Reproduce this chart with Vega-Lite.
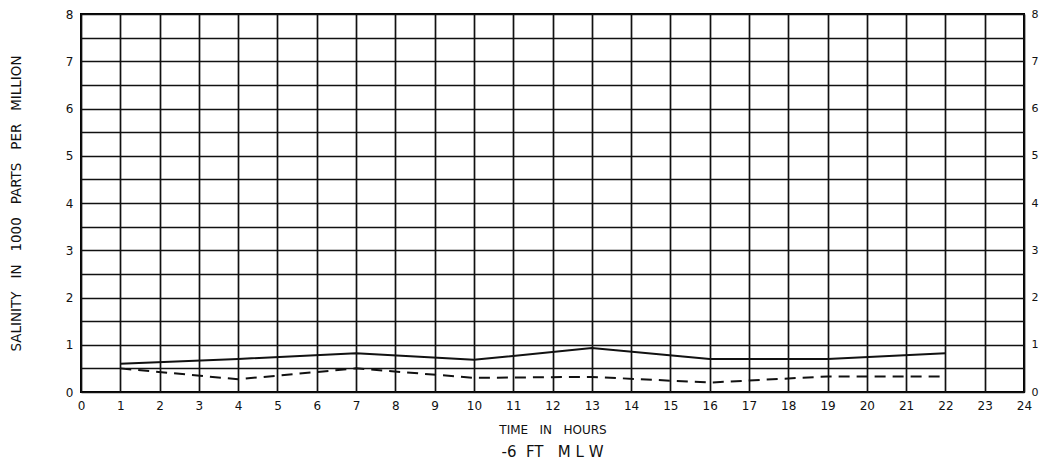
{
  "$schema": "https://vega.github.io/schema/vega-lite/v6.json",
  "width": 943,
  "height": 378,
  "autosize": {"type": "none"},
  "padding": {"left": 81, "top": 14, "right": 23, "bottom": 72},
  "background": "white",
  "title": {"text": "-6\u00a0\u00a0FT\u00a0\u00a0 M\u00a0L\u00a0W", "orient": "bottom", "fontSize": 15, "fontWeight": "normal", "font": "DejaVu Sans", "color": "#111", "offset": 10},
  "config": {
    "view": {"stroke": "black", "strokeWidth": 2},
    "font": "DejaVu Sans",
    "axis": {
      "domain": false,
      "ticks": false,
      "grid": true,
      "gridColor": "#111",
      "gridOpacity": 1,
      "gridWidth": 1.7,
      "labelColor": "#111",
      "labelFontSize": 12,
      "labelPadding": 8,
      "titleColor": "#111",
      "titleFontWeight": "normal",
      "titleFontSize": 12
    }
  },
  "data": {
    "values": [
      {"hour": 1, "salinity": 0.6, "series": "upper"},
      {"hour": 4, "salinity": 0.7, "series": "upper"},
      {"hour": 7, "salinity": 0.82, "series": "upper"},
      {"hour": 10, "salinity": 0.68, "series": "upper"},
      {"hour": 13, "salinity": 0.93, "series": "upper"},
      {"hour": 16, "salinity": 0.7, "series": "upper"},
      {"hour": 19, "salinity": 0.7, "series": "upper"},
      {"hour": 22, "salinity": 0.82, "series": "upper"},
      {"hour": 1, "salinity": 0.5, "series": "lower"},
      {"hour": 4, "salinity": 0.27, "series": "lower"},
      {"hour": 7, "salinity": 0.5, "series": "lower"},
      {"hour": 10, "salinity": 0.3, "series": "lower"},
      {"hour": 13, "salinity": 0.32, "series": "lower"},
      {"hour": 16, "salinity": 0.2, "series": "lower"},
      {"hour": 19, "salinity": 0.33, "series": "lower"},
      {"hour": 22, "salinity": 0.33, "series": "lower"}
    ]
  },
  "encoding": {
    "x": {
      "field": "hour",
      "type": "quantitative",
      "scale": {"domain": [0, 24], "nice": false},
      "axis": {
        "values": [0,1,2,3,4,5,6,7,8,9,10,11,12,13,14,15,16,17,18,19,20,21,22,23,24],
        "format": "d",
        "title": "TIME\u00a0\u00a0 IN\u00a0\u00a0 HOURS",
        "titlePadding": 13,
        "labelFlush": false
      }
    }
  },
  "layer": [
    {
      "transform": [{"filter": "datum.series == 'upper'"}],
      "mark": {"type": "line", "color": "#111", "strokeWidth": 2},
      "encoding": {
        "y": {
          "field": "salinity",
          "type": "quantitative",
          "scale": {"domain": [0, 8], "nice": false},
          "axis": {
            "orient": "left",
            "values": [0,0.5,1,1.5,2,2.5,3,3.5,4,4.5,5,5.5,6,6.5,7,7.5,8],
            "labelExpr": "datum.value % 1 == 0 ? format(datum.value, 'd') : ''",
            "title": "SALINITY\u00a0\u00a0 IN\u00a0\u00a0 1000\u00a0\u00a0 PARTS\u00a0\u00a0 PER\u00a0\u00a0 MILLION",
            "titleFontSize": 13.5,
            "titlePadding": 42,
            "labelFlush": false
          }
        }
      }
    },
    {
      "transform": [{"filter": "datum.series == 'lower'"}],
      "mark": {"type": "line", "color": "#111", "strokeWidth": 2, "strokeDash": [11, 7]},
      "encoding": {
        "y": {
          "field": "salinity",
          "type": "quantitative",
          "scale": {"domain": [0, 8], "nice": false},
          "axis": {
            "orient": "right",
            "grid": false,
            "values": [0,1,2,3,4,5,6,7,8],
            "format": "d",
            "labelPadding": 7,
            "labelFontSize": 11,
            "title": null,
            "labelFlush": false
          }
        }
      }
    }
  ],
  "resolve": {"axis": {"y": "independent"}}
}
